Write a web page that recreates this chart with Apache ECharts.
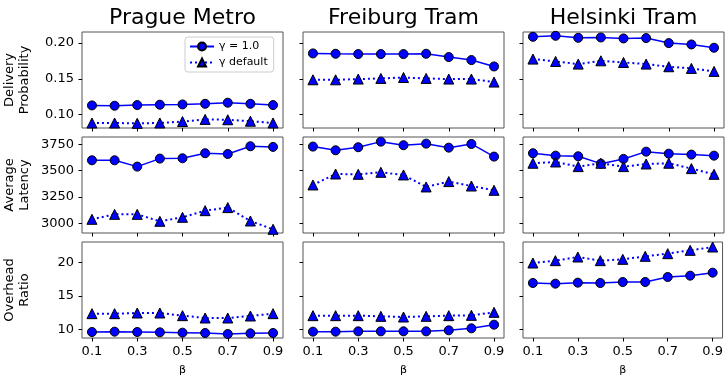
<!DOCTYPE html>
<html><head><meta charset="utf-8">
<script src="https://cdn.jsdelivr.net/npm/echarts@6/dist/echarts.min.js"></script>
<style>html,body{margin:0;padding:0;background:#fff}#c{width:726px;height:378px}</style>
</head><body><div id="c"></div>
<script>
// ---- data ----
const betas = [0.1, 0.2, 0.3, 0.4, 0.5, 0.6, 0.7, 0.8, 0.9];
const xTicks = [0.1, 0.3, 0.5, 0.7, 0.9];
const titles = ['Prague Metro', 'Freiburg Tram', 'Helsinki Tram'];
const rowNames = ['Delivery\nProbability', 'Average\nLatency', 'Overhead\nRatio'];
const seriesNames = ['\u03b3 = 1.0', '\u03b3 default'];

const pragueDeliveryG1  = [0.1130, 0.1126, 0.1135, 0.1140, 0.1144, 0.1153, 0.1168, 0.1153, 0.1135];
const pragueDeliveryDef = [0.0885, 0.0885, 0.0880, 0.0885, 0.0905, 0.0935, 0.0930, 0.0910, 0.0885];
const freiburgDeliveryG1  = [0.1856, 0.1851, 0.1847, 0.1847, 0.1847, 0.1851, 0.1805, 0.1763, 0.1674];
const freiburgDeliveryDef = [0.1488, 0.1488, 0.1498, 0.1507, 0.1520, 0.1507, 0.1498, 0.1498, 0.1456];
const helsinkiDeliveryG1  = [0.2088, 0.2102, 0.2074, 0.2079, 0.2065, 0.2070, 0.2000, 0.1981, 0.1935];
const helsinkiDeliveryDef = [0.1777, 0.1744, 0.1707, 0.1753, 0.1730, 0.1707, 0.1670, 0.1647, 0.1605];

const pragueLatencyG1  = [3598, 3598, 3538, 3614, 3617, 3665, 3658, 3731, 3725];
const pragueLatencyDef = [3038, 3085, 3085, 3019, 3057, 3120, 3149, 3022, 2943];
const freiburgLatencyG1  = [3728, 3693, 3722, 3775, 3741, 3756, 3718, 3753, 3633];
const freiburgLatencyDef = [3364, 3468, 3465, 3484, 3459, 3345, 3396, 3354, 3313];
const helsinkiLatencyG1  = [3665, 3642, 3636, 3566, 3611, 3680, 3661, 3652, 3642];
const helsinkiLatencyDef = [3570, 3582, 3538, 3570, 3538, 3563, 3570, 3519, 3465];

const pragueOverheadG1  = [9.60, 9.65, 9.60, 9.55, 9.50, 9.45, 9.30, 9.40, 9.45];
const pragueOverheadDef = [12.35, 12.35, 12.45, 12.45, 12.05, 11.70, 11.70, 12.00, 12.35];
const freiburgOverheadG1  = [9.65, 9.65, 9.70, 9.70, 9.70, 9.70, 9.85, 10.15, 10.70];
const freiburgOverheadDef = [12.05, 12.05, 12.05, 11.95, 11.85, 11.95, 12.05, 12.10, 12.55];
const helsinkiOverheadG1  = [16.95, 16.85, 17.00, 16.95, 17.10, 17.10, 17.85, 18.05, 18.50];
const helsinkiOverheadDef = [19.95, 20.30, 20.85, 20.30, 20.50, 20.95, 21.35, 21.85, 22.35];

const deliveryTicks = [0.10, 0.15, 0.20];
const latencyTicks = [3000, 3250, 3500, 3750];
const overheadTicks = [10, 15, 20];

// ---- layout ----
const colLeft = [82, 303, 523], colW = 201;
const rowTop = [32, 137, 242], rowH = 96;
const yRanges = [[0.0815, 0.2155], [2908, 3819], [8.7, 23.1]];
const yTickSets = [deliveryTicks, latencyTicks, overheadTicks];
const yFmt = [v => v.toFixed(2), v => String(Math.round(v)), v => String(Math.round(v))];
const table = [
  [[pragueDeliveryG1, pragueDeliveryDef], [freiburgDeliveryG1, freiburgDeliveryDef], [helsinkiDeliveryG1, helsinkiDeliveryDef]],
  [[pragueLatencyG1, pragueLatencyDef], [freiburgLatencyG1, freiburgLatencyDef], [helsinkiLatencyG1, helsinkiLatencyDef]],
  [[pragueOverheadG1, pragueOverheadDef], [freiburgOverheadG1, freiburgOverheadDef], [helsinkiOverheadG1, helsinkiOverheadDef]]
];

const FONT = 'DejaVu Sans';
const grids = [], xAxes = [], yAxes = [], series = [], graphics = [];
let idx = 0;
for (let r = 0; r < 3; r++) {
  for (let c = 0; c < 3; c++) {
    grids.push({left: colLeft[c], top: rowTop[r], width: colW, height: rowH,
      show: true, borderColor: '#555', borderWidth: 1, backgroundColor: 'transparent', containLabel: false});
    xAxes.push({type: 'value', gridIndex: idx, min: 0.056, max: 0.944,
      axisLine: {show: false}, splitLine: {show: false},
      axisTick: {show: true, inside: false, length: 3.5, lineStyle: {color: '#000', width: 1}, customValues: xTicks},
      axisLabel: {show: r === 2, customValues: xTicks, formatter: v => v.toFixed(1), fontFamily: FONT, fontSize: 13, color: '#000', margin: 7},
      name: r === 2 ? '\u03b2' : '', nameLocation: 'middle', nameGap: 27,
      nameTextStyle: {fontFamily: FONT, fontSize: 11, color: '#000'}});
    yAxes.push({type: 'value', gridIndex: idx, min: yRanges[r][0], max: yRanges[r][1],
      axisLine: {show: false}, splitLine: {show: false},
      axisTick: {show: true, inside: false, length: 3.5, lineStyle: {color: '#000', width: 1}, customValues: yTickSets[r]},
      axisLabel: {show: c === 0, customValues: yTickSets[r], formatter: yFmt[r], fontFamily: FONT, fontSize: 13, color: '#000', margin: 8},
      name: c === 0 ? rowNames[r] : '', nameLocation: 'middle', nameRotate: 90, nameGap: 50,
      nameTextStyle: {fontFamily: FONT, fontSize: 13, color: '#000', lineHeight: 15, align: 'center'}});
    const pair = table[r][c];
    series.push({type: 'line', name: seriesNames[0], xAxisIndex: idx, yAxisIndex: idx,
      data: betas.map((b, i) => [b, pair[0][i]]), symbol: 'circle', symbolSize: 9,
      lineStyle: {color: '#0000ff', width: 1.5}, itemStyle: {color: '#0000ff', borderColor: '#000', borderWidth: 1},
      animation: false, z: 3});
    series.push({type: 'line', name: seriesNames[1], xAxisIndex: idx, yAxisIndex: idx,
      data: betas.map((b, i) => [b, pair[1][i]]), symbol: 'triangle', symbolSize: 10,
      lineStyle: {color: '#0000ff', width: 2, type: [2, 3]}, itemStyle: {color: '#0000ff', borderColor: '#000', borderWidth: 1},
      animation: false, z: 3});
    idx++;
  }
}
for (let c = 0; c < 3; c++) {
  graphics.push({type: 'text', x: colLeft[c] + colW / 2, y: 18,
    style: {text: titles[c], fontFamily: FONT, fontSize: 22, fill: '#000', textAlign: 'center', textVerticalAlign: 'middle'}});
}

const chart = echarts.init(document.getElementById('c'), null, {renderer: 'canvas'});
chart.setOption({
  animation: false,
  backgroundColor: '#fff',
  grid: grids, xAxis: xAxes, yAxis: yAxes, series: series,
  graphic: graphics,
  legend: {data: seriesNames, orient: 'vertical', left: 185, top: 37,
    itemWidth: 24, itemHeight: 10, itemGap: 5, padding: [4, 6, 4, 4],
    backgroundColor: '#fff', borderColor: '#ccc', borderWidth: 1, borderRadius: 3,
    textStyle: {fontFamily: FONT, fontSize: 11, color: '#000'}}
});
</script></body></html>
